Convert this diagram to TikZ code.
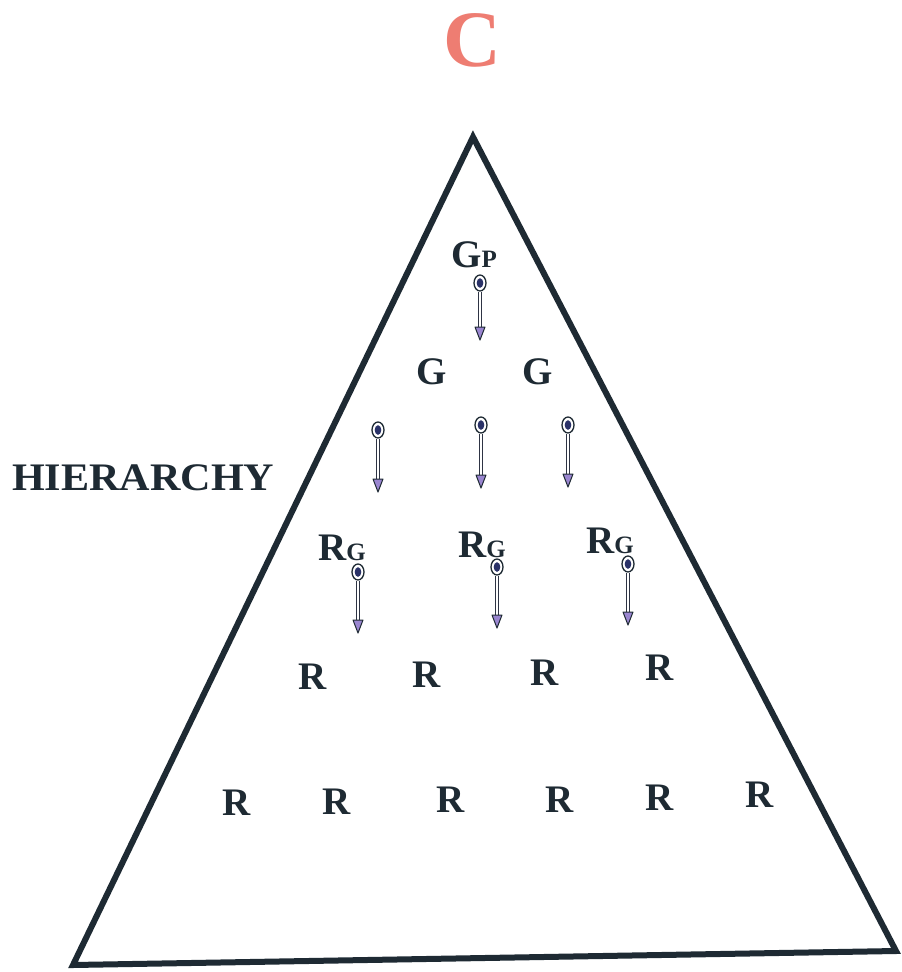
\documentclass[tikz,border=0pt]{standalone}
\usepackage{fontspec}
\setmainfont{Liberation Serif}
\usetikzlibrary{shapes.geometric}
\definecolor{ink}{HTML}{1E2A33}
\definecolor{salmon}{HTML}{EE7D72}
\definecolor{knobfill}{HTML}{2A3268}
\definecolor{tipfill}{HTML}{9A86D0}
\definecolor{shaftc}{HTML}{2E3444}
\tikzset{
  lbl/.style={inner sep=0pt, text=ink, font=\fontsize{39}{39}\selectfont\bfseries},
  knob/.style={ellipse, draw=ink, line width=1.3pt, fill=white, minimum width=12pt, minimum height=16pt, inner sep=0pt,
    path picture={\fill[knobfill] (path picture bounding box.center) ellipse (3.3pt and 4.8pt);}},
  shaft/.style={draw=shaftc, line width=1pt, double=white, double distance=2pt},
  tip/.style={draw=ink, line width=1pt, fill=tipfill, line join=round}
}
\newcommand{\smc}[1]{{\fontsize{25}{25}\selectfont #1}}
\begin{document}
\begin{tikzpicture}[x=1pt,y=-1pt]
\useasboundingbox (0,0) rectangle (902,972);
\fill[white] (0,0) rectangle (902,972);
% triangle
\coordinate (apex) at (473,137);
\coordinate (bl) at (73,965);
\coordinate (br) at (896,951);
\draw[ink, line width=6pt, line join=miter] (apex) -- (br) -- (bl) -- cycle;
% title
\node[inner sep=0pt, text=salmon, font=\fontsize{80}{80}\selectfont\bfseries] (title) at (472,40) {C};
% side label
\node[lbl, anchor=west, xscale=1.08, transform shape] (hier) at (12,478) {HIERARCHY};
% top
\node[lbl] (gp) at (474,255) {G\smc{P}};
\node[lbl] (g1) at (432,372) {G};
\node[lbl] (g2) at (538,372) {G};
\node[lbl] (rg1) at (342,548) {R\smc{G}};
\node[lbl] (rg2) at (482,545) {R\smc{G}};
\node[lbl] (rg3) at (610,541) {R\smc{G}};
% R rows
\foreach \n/\x/\y in {a/313/677, b/427/675, c/545/673, d/660/668}
  \node[lbl] (r\n) at (\x,\y) {R};
\foreach \n/\x/\y in {1/237/803, 2/337/802, 3/451/800, 4/560/800, 5/660/798, 6/760/795}
  \node[lbl] (s\n) at (\x,\y) {R};
% spoon arrows
\foreach \i/\x/\ya/\yb in {1/480/283/340, 2/378/430/492, 3/481/425/488, 4/568/425/487, 5/358/572/633, 6/497/567/628, 7/628/564/625}{
  \node[knob] (k\i) at (\x,\ya) {};
  \coordinate (t\i) at (\x,\yb);
  \draw[shaft] (k\i.south) -- ([yshift=8pt]t\i);
  \draw[tip] (t\i) -- ++(-5,-13) -- ++(10,0) -- cycle;
}
\end{tikzpicture}
\end{document}
